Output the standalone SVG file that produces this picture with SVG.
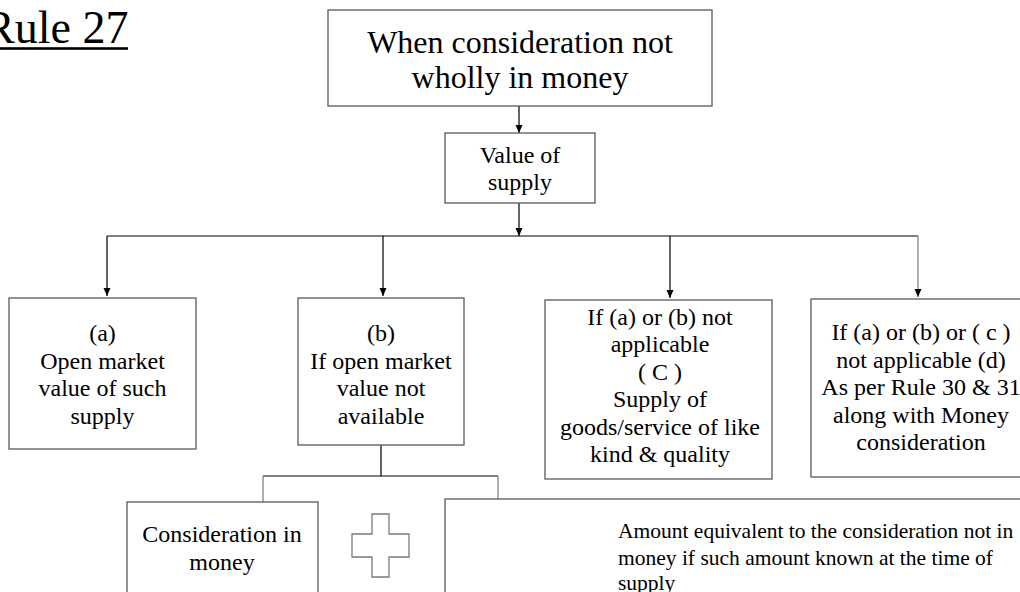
<svg xmlns="http://www.w3.org/2000/svg" width="1020" height="592" viewBox="0 0 1020 592">
  <style>
    .box { fill: #ffffff; stroke: #5a5a5a; stroke-width: 1.3; }
    .t { font-family: "Liberation Serif", "Times New Roman", serif; fill: #000000; text-anchor: middle; }
    .t24 { font-size: 24px; }
    .note { font-family: "Liberation Serif", "Times New Roman", serif; font-size: 21.5px; fill: #000000; }
    .wire { fill: none; stroke: #000000; stroke-width: 1.2; }
    .wire-soft { fill: none; stroke: #7a7a7a; stroke-width: 1.2; }
  </style>
  <defs>
    <marker id="arrow" viewBox="0 0 8 8" refX="8" refY="4" markerWidth="8" markerHeight="8" markerUnits="userSpaceOnUse" orient="auto">
      <path d="M0,0.5 L8,4 L0,7.5 Z" fill="#000000"/>
    </marker>
  </defs>

  <rect width="1020" height="592" fill="#ffffff"/>

  <!-- heading -->
  <g id="title">
    <text x="-16" y="43" font-family="Liberation Serif, Times New Roman, serif" font-size="46" fill="#000000">Rule 27</text>
    <rect x="-16" y="47.2" width="144" height="2.6" fill="#000000"/>
  </g>

  <!-- connectors -->
  <g id="connectors">
    <line class="wire" x1="519" y1="106" x2="519" y2="133" marker-end="url(#arrow)"/>
    <line class="wire" x1="519" y1="203" x2="519" y2="236" marker-end="url(#arrow)"/>
    <line class="wire" x1="107" y1="236" x2="918" y2="236"/>
    <line class="wire" x1="107" y1="236" x2="107" y2="296" marker-end="url(#arrow)"/>
    <line class="wire" x1="383" y1="236" x2="383" y2="296" marker-end="url(#arrow)"/>
    <line class="wire" x1="670" y1="236" x2="670" y2="298" marker-end="url(#arrow)"/>
    <line class="wire-soft" x1="918" y1="236" x2="918" y2="297" marker-end="url(#arrow)"/>
    <line class="wire" x1="381" y1="445" x2="381" y2="476"/>
    <line class="wire" x1="263" y1="476" x2="498" y2="476"/>
    <line class="wire-soft" x1="263" y1="476" x2="263" y2="502"/>
    <line class="wire-soft" x1="498" y1="476" x2="498" y2="499"/>
  </g>

  <g id="node-start">
    <rect class="box" x="328" y="10" width="384" height="96"/>
    <text class="t" x="520" y="53" font-size="32">When consideration not</text>
    <text class="t" x="520" y="88" font-size="32">wholly in money</text>
  </g>

  <g id="node-value">
    <rect class="box" x="445" y="133" width="150" height="70"/>
    <text class="t t24" x="520" y="163">Value of</text>
    <text class="t t24" x="520" y="190">supply</text>
  </g>

  <g id="node-a">
    <rect class="box" x="9" y="298" width="187" height="151"/>
    <text class="t t24" x="102.5" y="341">(a)</text>
    <text class="t t24" x="102.5" y="368.6">Open market</text>
    <text class="t t24" x="102.5" y="396.2">value of such</text>
    <text class="t t24" x="102.5" y="423.8">supply</text>
  </g>

  <g id="node-b">
    <rect class="box" x="298" y="298" width="166" height="147"/>
    <text class="t t24" x="381" y="341">(b)</text>
    <text class="t t24" x="381" y="368.6">If open market</text>
    <text class="t t24" x="381" y="396.2">value not</text>
    <text class="t t24" x="381" y="423.8">available</text>
  </g>

  <g id="node-c">
    <rect class="box" x="545" y="300" width="227" height="179"/>
    <text class="t t24" x="660" y="324.5">If (a) or (b) not</text>
    <text class="t t24" x="660" y="352">applicable</text>
    <text class="t t24" x="660" y="379.5">( C )</text>
    <text class="t t24" x="660" y="407">Supply of</text>
    <text class="t t24" x="660" y="434.5">goods/service of like</text>
    <text class="t t24" x="660" y="462">kind &amp; quality</text>
  </g>

  <g id="node-d">
    <rect class="box" x="811" y="299" width="220" height="178"/>
    <text class="t t24" x="921" y="340">If (a) or (b) or ( c )</text>
    <text class="t t24" x="921" y="367.6">not applicable (d)</text>
    <text class="t t24" x="921" y="395.2">As per Rule 30 &amp; 31</text>
    <text class="t t24" x="921" y="422.8">along with Money</text>
    <text class="t t24" x="921" y="450.4">consideration</text>
  </g>

  <g id="node-money">
    <rect class="box" x="127" y="502" width="191" height="100"/>
    <text class="t t24" x="222" y="542">Consideration in</text>
    <text class="t t24" x="222" y="570">money</text>
  </g>

  <g id="plus-sign">
    <path d="M372,514 H389 V534 H409 V557 H389 V577 H372 V557 H352 V534 H372 Z" fill="#ffffff" stroke="#7a7a7a" stroke-width="1.3"/>
  </g>

  <g id="node-amount">
    <rect class="box" x="445" y="499" width="590" height="110"/>
    <text class="note" x="618" y="538">Amount equivalent to the consideration not in</text>
    <text class="note" x="618" y="565">money if such amount known at the time of</text>
    <text class="note" x="618" y="590">supply</text>
  </g>
</svg>
